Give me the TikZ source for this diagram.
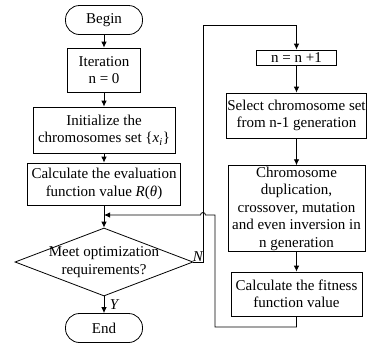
\documentclass[tikz,border=0pt]{standalone}
\usepackage{fontspec}
\setmainfont{Liberation Serif}
\usetikzlibrary{shapes.geometric, arrows.meta}

\begin{document}
\begin{tikzpicture}[x=1pt, y=-1pt, line width=0.8pt, >={Latex[length=6pt,width=5.5pt]}, font=\fontsize{15}{17.5}\selectfont]
  \tikzstyle{box}=[draw, align=center, inner sep=1pt]
  \tikzstyle{term}=[draw, rounded corners=14pt, minimum width=77pt, minimum height=29pt]
  \tikzstyle{decide}=[draw, diamond, minimum width=178pt, minimum height=68pt, inner sep=0pt]
  \useasboundingbox (0,0) rectangle (367,349);

  \node[term] (begin) at (104,20) {Begin};
  \node[box, minimum width=73pt, minimum height=44pt] (iter) at (104,70) {Iteration\\n = 0};
  \node[box, minimum width=142pt, minimum height=46pt] (init) at (104,130) {Initialize the\\chromosomes set \{\textit{x}\textsubscript{\textit{i}}\}};
  \node[box, minimum width=153pt, minimum height=42pt] (eval) at (104,184) {Calculate the evaluation\\function value \textit{R}(\textit{θ})};
  \node[decide, label={[align=center]center:Meet optimization\\requirements?}] (meet) at (104,262) {};
  \node[term] (end) at (104,328) {End};

  \node[box, minimum width=80pt, minimum height=15pt] (inc) at (296.5,57.5) {n = n +1};
  \node[box, minimum width=140pt, minimum height=45pt] (select) at (296.5,115.5) {Select chromosome set\\from n-1 generation};
  \node[box, minimum width=137pt, minimum height=83pt] (chrom) at (296.5,208.5) {Chromosome\\duplication,\\crossover, mutation\\and even inversion in\\n generation};
  \node[box, minimum width=131pt, minimum height=44pt] (fit) at (296.5,294) {Calculate the fitness\\function value};

  \node[font=\fontsize{15}{17.5}\selectfont\itshape] (nlab) at (198,257) {N};
  \node[font=\fontsize{15}{17.5}\selectfont\itshape] (ylab) at (114,305) {Y};

  \coordinate (ntop) at (203,25);
  \coordinate (fb) at (215,327);
  \coordinate (hop) at (205.5,215);
  \coordinate (jn) at (104,215);

  \draw[->] (begin) -- (iter);
  \draw[->] (iter) -- (init);
  \draw[->] (init) -- (eval);
  \draw[->] (eval) -- (meet);
  \draw[->] (meet) -- (end);
  \draw[->] (inc) -- (select);
  \draw[->] (select) -- (chrom);
  \draw[->] (chrom) -- (fit);
  \draw[->] (meet.east) -| (ntop) -| (inc.north);
  \draw[->] (fit.south) |- (fb) |- (hop) arc[start angle=0, end angle=180, radius=2.5pt] -- (jn);
\end{tikzpicture}
\end{document}
